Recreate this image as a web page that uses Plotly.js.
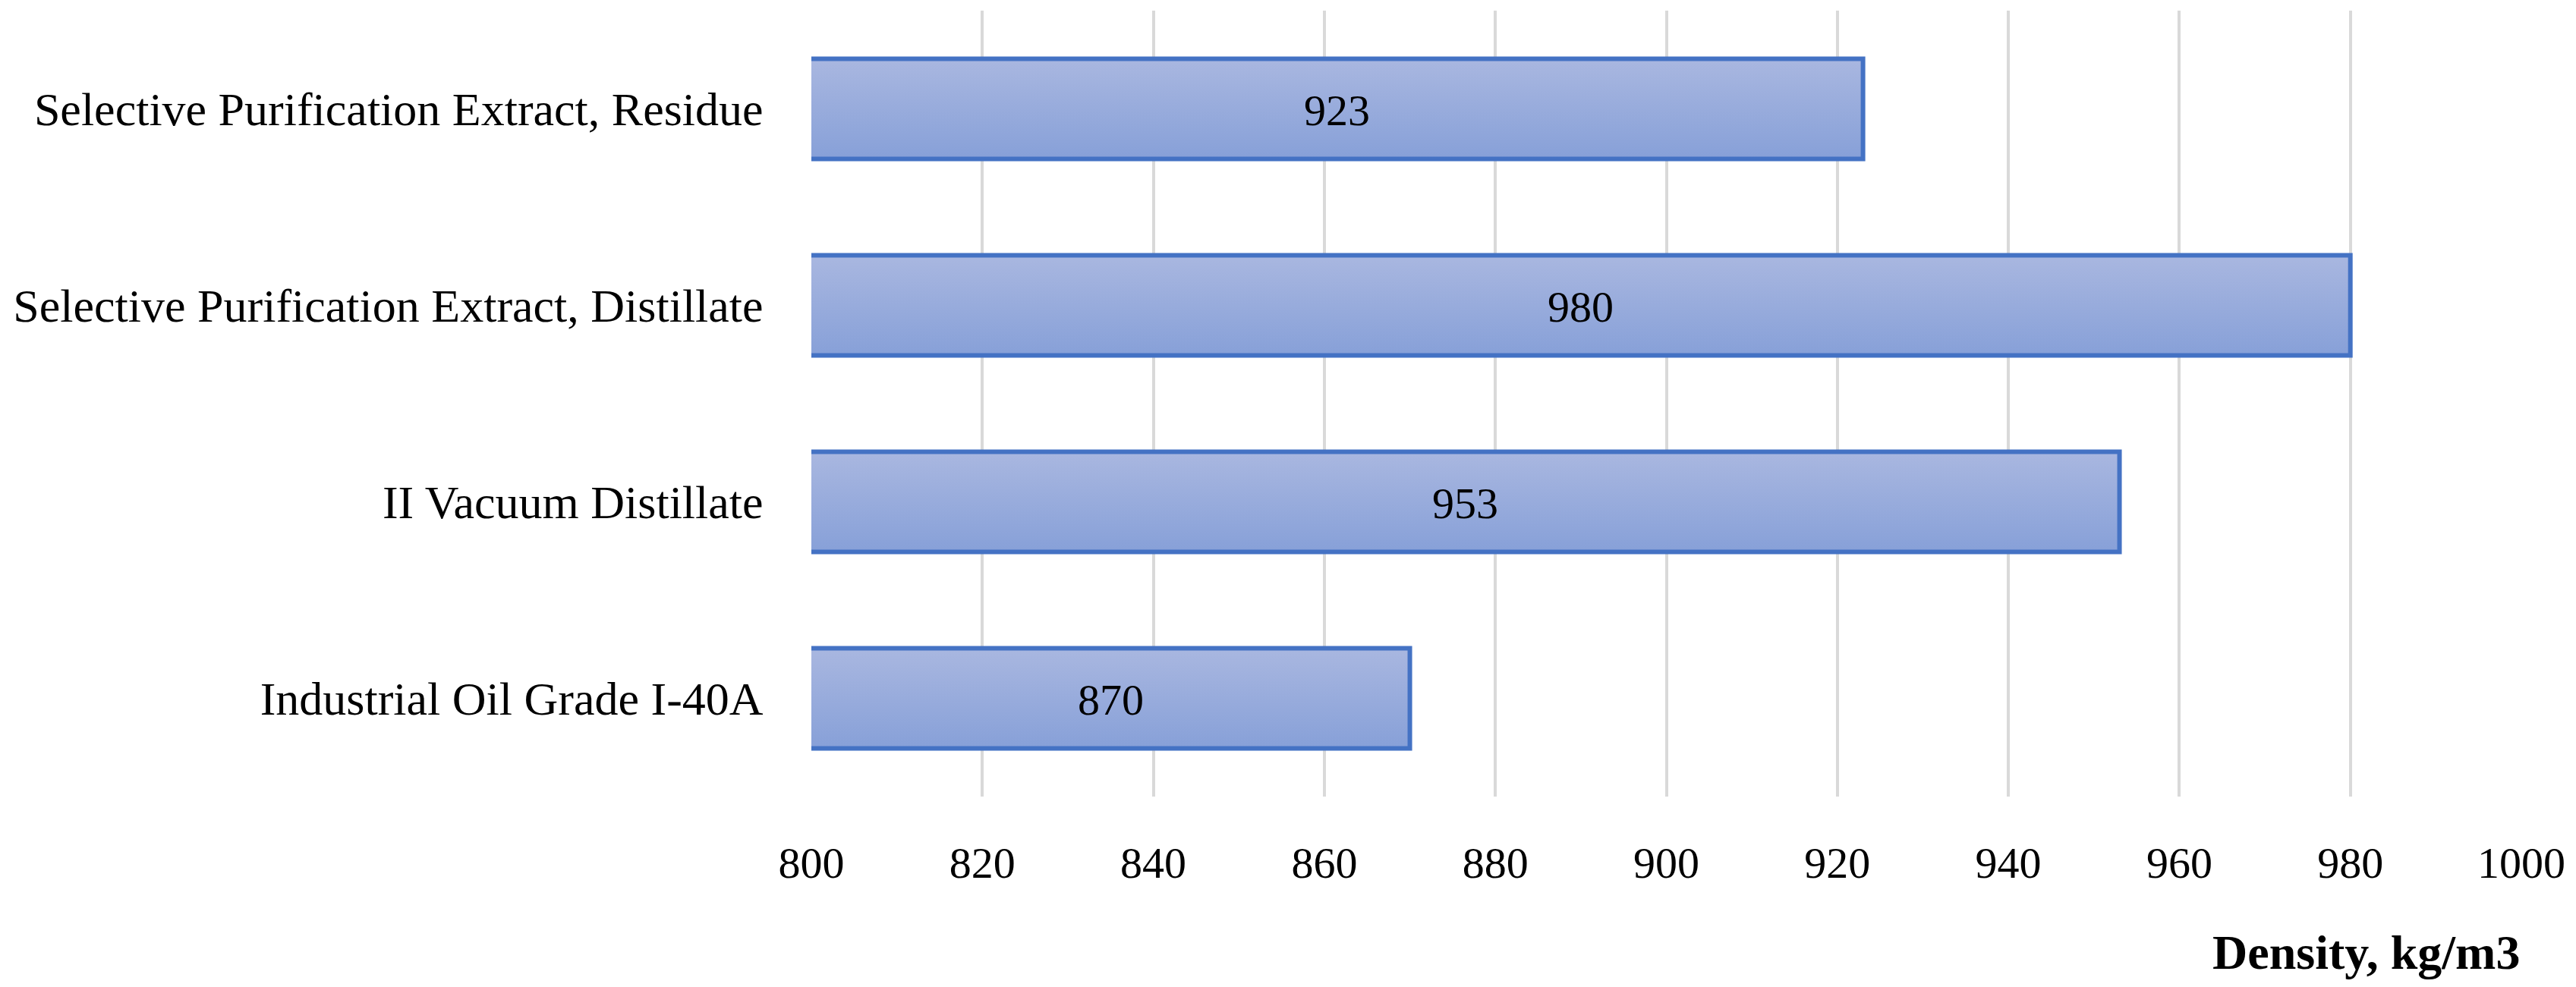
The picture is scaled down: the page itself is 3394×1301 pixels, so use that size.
<!DOCTYPE html>
<html>
<head>
<meta charset="utf-8">
<script src="https://cdn.plot.ly/plotly-3.0.1.min.js"></script>
<style>
html,body{margin:0;padding:0;background:#fff;}
#chart{width:3394px;height:1301px;}
</style>
</head>
<body>
<div id="chart"></div>
<script>
const categories = [
  "Industrial Oil Grade I-40A",
  "II Vacuum Distillate",
  "Selective Purification Extract, Distillate",
  "Selective Purification Extract, Residue"
];
const densityValues = [870, 953, 980, 923];
const xTickValues = [800, 820, 840, 860, 880, 900, 920, 940, 960, 980, 1000];
const xAxisTitle = "Density, kg/m3";
const axisMin = 800, axisMax = 1000;

const FONT = "'Liberation Serif', 'DejaVu Serif', serif";

const trace = {
  type: 'bar',
  orientation: 'h',
  y: categories,
  x: densityValues,
  width: 0.51,
  marker: {color: '#98ABDC', line: {color: '#4472C4', width: 6}},
  hoverinfo: 'none',
  cliponaxis: true
};

// value labels centred on the visible part of each bar
const valueLabels = densityValues.map(function(v, i){
  return {
    text: String(v),
    xref: 'x', yref: 'y',
    x: (axisMin + v) / 2, y: categories[i],
    xanchor: 'center', yanchor: 'middle',
    yshift: -2,
    showarrow: false,
    font: {family: FONT, size: 58, color: '#000'}
  };
});

const layout = {
  width: 3394,
  height: 1301,
  margin: {l: 1069, r: 72, t: 14, b: 251},
  paper_bgcolor: '#fff',
  plot_bgcolor: '#fff',
  showlegend: false,
  font: {family: FONT, size: 58, color: '#000'},
  xaxis: {
    range: [axisMin, axisMax],
    tickvals: xTickValues,
    ticktext: xTickValues.map(String),
    showgrid: true,
    gridcolor: '#D9D9D9',
    gridwidth: 4,
    zeroline: false,
    showline: false,
    ticks: 'outside',
    ticklen: 36,
    tickcolor: 'rgba(0,0,0,0)',
    tickfont: {family: FONT, size: 58, color: '#000'},
    fixedrange: true
  },
  yaxis: {
    type: 'category',
    categoryorder: 'array',
    categoryarray: categories,
    showgrid: false,
    zeroline: false,
    showline: false,
    ticks: 'outside',
    ticklen: 50,
    tickcolor: 'rgba(0,0,0,0)',
    tickfont: {family: FONT, size: 62, color: '#000'},
    fixedrange: true
  },
  annotations: valueLabels.concat([{
    text: '<b>' + xAxisTitle + '</b>',
    xref: 'paper', yref: 'paper',
    x: 1, y: -0.198,
    xanchor: 'right', yanchor: 'middle',
    showarrow: false,
    font: {family: FONT, size: 64, color: '#000'}
  }])
};

Plotly.newPlot('chart', [trace], layout, {staticPlot: true, displayModeBar: false}).then(function(gd){
  const svg = gd.querySelector('svg.main-svg');
  const ns = 'http://www.w3.org/2000/svg';
  let defs = svg.querySelector('defs');
  if (!defs) { defs = document.createElementNS(ns, 'defs'); svg.insertBefore(defs, svg.firstChild); }
  const grad = document.createElementNS(ns, 'linearGradient');
  grad.setAttribute('id', 'barGrad');
  grad.setAttribute('x1', '0'); grad.setAttribute('y1', '0');
  grad.setAttribute('x2', '0'); grad.setAttribute('y2', '1');
  [['0%', '#A9B7E0'], ['100%', '#87A0D8']].forEach(function(s){
    const st = document.createElementNS(ns, 'stop');
    st.setAttribute('offset', s[0]);
    st.setAttribute('stop-color', s[1]);
    grad.appendChild(st);
  });
  defs.appendChild(grad);
  gd.querySelectorAll('.bars .point path').forEach(function(p){
    p.style.fill = 'url(#barGrad)';
  });
});
</script>
</body>
</html>
